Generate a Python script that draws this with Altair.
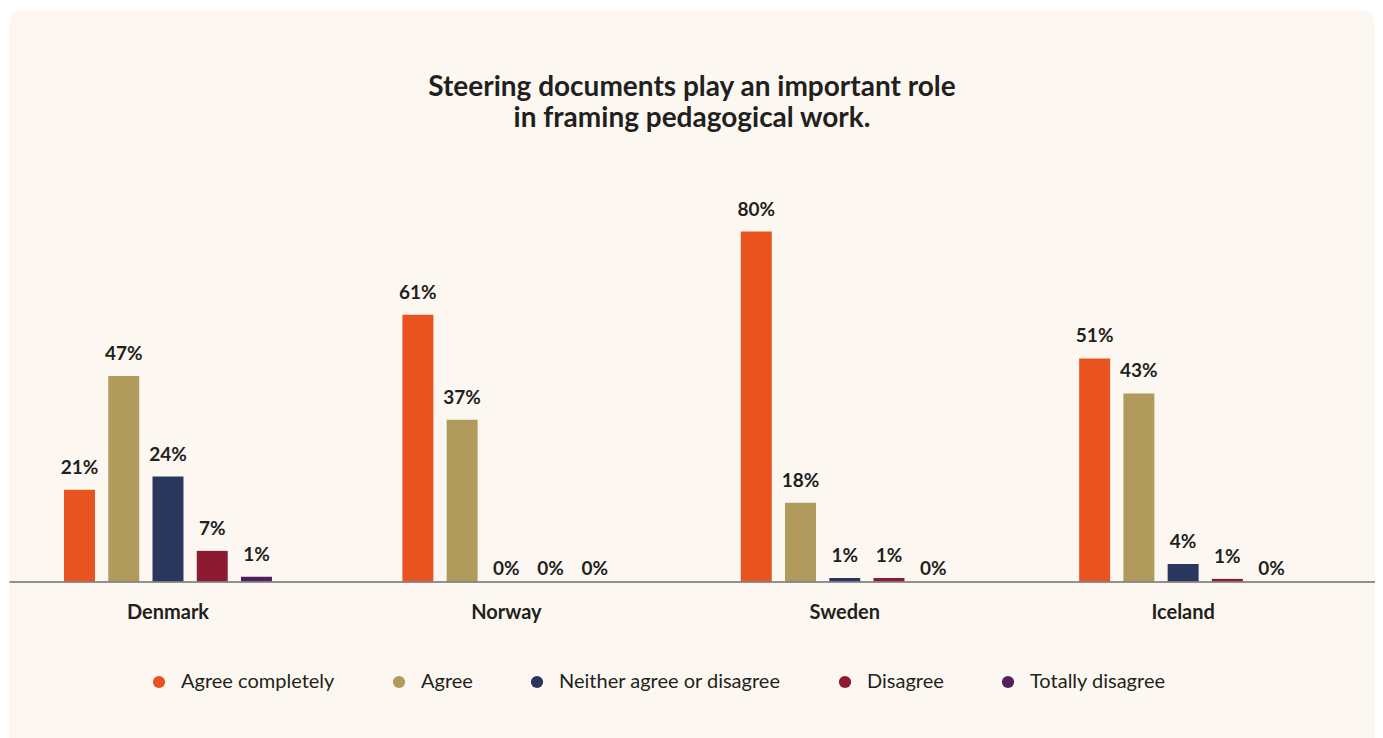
import altair as alt
import pandas as pd

countries = ["Denmark", "Norway", "Sweden", "Iceland"]
categories = ["Agree completely", "Agree", "Neither agree or disagree", "Disagree", "Totally disagree"]
agree_completely = [21, 61, 80, 51]
agree = [47, 37, 18, 43]
neither = [24, 0, 0.8, 4]
disagree = [7, 0, 0.8, 0.6]
totally_disagree = [1.1, 0, 0, 0]
colors = ["#E8531F", "#B09A5C", "#2B365F", "#8C1A31", "#4F1F5F"]

TEXT = "#231F20"
CARD = "#FCF8F1"
FONT = "Lato"

series = [agree_completely, agree, neither, disagree, totally_disagree]
rows = []
for cat, vals in zip(categories, series):
    for c, v in zip(countries, vals):
        rows.append({"country": c, "category": cat, "value": v, "label": f"{round(v)}%"})
df = pd.DataFrame(rows)

x_enc = alt.X("country:N", sort=countries,
              scale=alt.Scale(paddingInner=0.3855, paddingOuter=0.2112, align=0.385),
              axis=alt.Axis(title=None, labelAngle=0, ticks=False, domain=True,
                            domainColor="#6F6F6F", domainWidth=1.5, labelPadding=21,
                            labelFont=FONT, labelFontSize=20, labelFontWeight="bold",
                            labelColor=TEXT, zindex=1))
xo_enc = alt.XOffset("category:N", sort=categories,
                     scale=alt.Scale(paddingInner=0.3, paddingOuter=0))
y_enc = alt.Y("value:Q", scale=alt.Scale(domain=[0, 100], nice=False), axis=None)

base = alt.Chart(df)

card = alt.Chart(alt.Data(values=[{"k": 1}])).mark_rect(
    fill=CARD, cornerRadius=15
).encode(
    x=alt.value(0), x2=alt.value(1366), y=alt.value(-134), y2=alt.value(640)
)

bars = base.mark_bar().encode(
    x=x_enc, xOffset=xo_enc, y=y_enc,
    color=alt.Color("category:N", sort=categories,
                    scale=alt.Scale(domain=categories, range=colors),
                    legend=alt.Legend(title=None, orient="none", direction="horizontal",
                                      legendX=140, legendY=528, symbolType="circle",
                                      symbolSize=150, symbolStrokeWidth=0,
                                      labelFont=FONT, labelFontSize=20, labelColor=TEXT,
                                      labelLimit=400, labelOffset=12, columnPadding=54,
                                      padding=0))
)

labels_pos = base.transform_filter("datum.value > 0").mark_text(
    font=FONT, fontSize=19, fontWeight="bold", color=TEXT, baseline="alphabetic", dy=-16
).encode(x=x_enc, xOffset=xo_enc, y=y_enc, text="label:N")

labels_zero = base.transform_filter("datum.value == 0").mark_text(
    font=FONT, fontSize=19, fontWeight="bold", color=TEXT, baseline="alphabetic", dy=-7
).encode(x=x_enc, xOffset=xo_enc, y=y_enc, text="label:N")

chart = alt.layer(card, bars, labels_pos, labels_zero).properties(
    width=1366, height=437.5,
    title=alt.TitleParams(
        text=["Steering documents play an important role", "in framing pedagogical work."],
        font=FONT, fontSize=28, fontWeight="bold", color=TEXT, anchor="middle",
        lineHeight=31, offset=-123, frame="group"
    ),
    autosize=alt.AutoSizeParams(type="none"),
    padding={"left": 1, "top": 136, "right": 0, "bottom": 156},
    background="white",
).configure_view(strokeWidth=0)

chart.save("out.html", embed_options={"renderer": "svg", "actions": False})
